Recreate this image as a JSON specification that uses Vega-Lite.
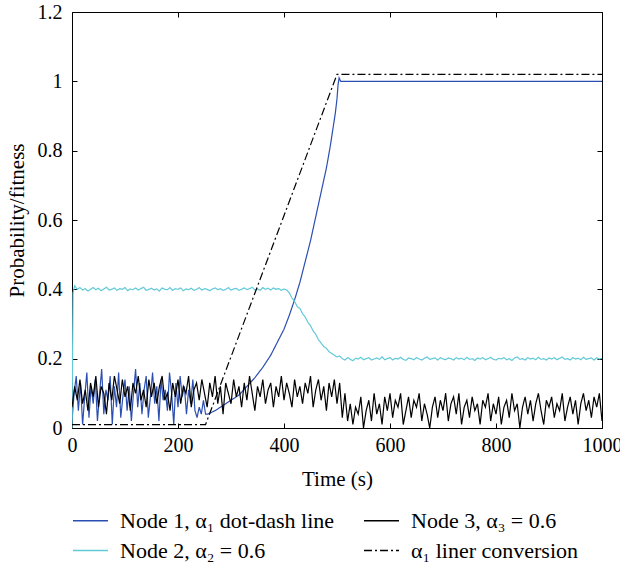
{
  "$schema": "https://vega.github.io/schema/vega-lite/v6.json",
  "width": 530,
  "height": 416,
  "autosize": "none",
  "padding": {"left": 72, "top": 12, "right": 18, "bottom": 137},
  "layer": [
    {
      "data": {"values": [
        {"t":0,"v":0.02,"s":"Node 1, α₁ dot-dash line"},{"t":4,"v":0.10,"s":"Node 1, α₁ dot-dash line"},{"t":8,"v":0.15,"s":"Node 1, α₁ dot-dash line"},{"t":12,"v":0.05,"s":"Node 1, α₁ dot-dash line"},{"t":16,"v":0.13,"s":"Node 1, α₁ dot-dash line"},{"t":20,"v":0.01,"s":"Node 1, α₁ dot-dash line"},{"t":24,"v":0.09,"s":"Node 1, α₁ dot-dash line"},{"t":28,"v":0.16,"s":"Node 1, α₁ dot-dash line"},{"t":32,"v":0.03,"s":"Node 1, α₁ dot-dash line"},{"t":36,"v":0.12,"s":"Node 1, α₁ dot-dash line"},{"t":40,"v":0.07,"s":"Node 1, α₁ dot-dash line"},{"t":44,"v":0.14,"s":"Node 1, α₁ dot-dash line"},{"t":48,"v":0.02,"s":"Node 1, α₁ dot-dash line"},{"t":52,"v":0.10,"s":"Node 1, α₁ dot-dash line"},{"t":56,"v":0.17,"s":"Node 1, α₁ dot-dash line"},{"t":60,"v":0.04,"s":"Node 1, α₁ dot-dash line"},{"t":64,"v":0.11,"s":"Node 1, α₁ dot-dash line"},{"t":68,"v":0.08,"s":"Node 1, α₁ dot-dash line"},{"t":72,"v":0.15,"s":"Node 1, α₁ dot-dash line"},{"t":76,"v":0.01,"s":"Node 1, α₁ dot-dash line"},{"t":80,"v":0.12,"s":"Node 1, α₁ dot-dash line"},{"t":84,"v":0.06,"s":"Node 1, α₁ dot-dash line"},{"t":88,"v":0.16,"s":"Node 1, α₁ dot-dash line"},{"t":92,"v":0.03,"s":"Node 1, α₁ dot-dash line"},{"t":96,"v":0.09,"s":"Node 1, α₁ dot-dash line"},{"t":100,"v":0.14,"s":"Node 1, α₁ dot-dash line"},{"t":104,"v":0.05,"s":"Node 1, α₁ dot-dash line"},{"t":108,"v":0.12,"s":"Node 1, α₁ dot-dash line"},{"t":112,"v":0.02,"s":"Node 1, α₁ dot-dash line"},{"t":116,"v":0.10,"s":"Node 1, α₁ dot-dash line"},{"t":120,"v":0.17,"s":"Node 1, α₁ dot-dash line"},{"t":124,"v":0.06,"s":"Node 1, α₁ dot-dash line"},{"t":128,"v":0.13,"s":"Node 1, α₁ dot-dash line"},{"t":132,"v":0.04,"s":"Node 1, α₁ dot-dash line"},{"t":136,"v":0.11,"s":"Node 1, α₁ dot-dash line"},{"t":140,"v":0.15,"s":"Node 1, α₁ dot-dash line"},{"t":144,"v":0.03,"s":"Node 1, α₁ dot-dash line"},{"t":148,"v":0.09,"s":"Node 1, α₁ dot-dash line"},{"t":152,"v":0.16,"s":"Node 1, α₁ dot-dash line"},{"t":156,"v":0.07,"s":"Node 1, α₁ dot-dash line"},{"t":160,"v":0.12,"s":"Node 1, α₁ dot-dash line"},{"t":164,"v":0.02,"s":"Node 1, α₁ dot-dash line"},{"t":168,"v":0.14,"s":"Node 1, α₁ dot-dash line"},{"t":172,"v":0.08,"s":"Node 1, α₁ dot-dash line"},{"t":176,"v":0.11,"s":"Node 1, α₁ dot-dash line"},{"t":180,"v":0.05,"s":"Node 1, α₁ dot-dash line"},{"t":184,"v":0.16,"s":"Node 1, α₁ dot-dash line"},{"t":188,"v":0.10,"s":"Node 1, α₁ dot-dash line"},{"t":192,"v":0.01,"s":"Node 1, α₁ dot-dash line"},{"t":196,"v":0.13,"s":"Node 1, α₁ dot-dash line"},{"t":200,"v":0.06,"s":"Node 1, α₁ dot-dash line"},{"t":204,"v":0.15,"s":"Node 1, α₁ dot-dash line"},{"t":208,"v":0.09,"s":"Node 1, α₁ dot-dash line"},{"t":212,"v":0.12,"s":"Node 1, α₁ dot-dash line"},{"t":216,"v":0.04,"s":"Node 1, α₁ dot-dash line"},{"t":220,"v":0.11,"s":"Node 1, α₁ dot-dash line"},{"t":224,"v":0.07,"s":"Node 1, α₁ dot-dash line"},{"t":228,"v":0.14,"s":"Node 1, α₁ dot-dash line"},{"t":232,"v":0.05,"s":"Node 1, α₁ dot-dash line"},{"t":236,"v":0.03,"s":"Node 1, α₁ dot-dash line"},{"t":240,"v":0.06,"s":"Node 1, α₁ dot-dash line"},{"t":244,"v":0.04,"s":"Node 1, α₁ dot-dash line"},{"t":248,"v":0.08,"s":"Node 1, α₁ dot-dash line"},{"t":252,"v":0.04,"s":"Node 1, α₁ dot-dash line"},{"t":256,"v":0.04,"s":"Node 1, α₁ dot-dash line"},{"t":270,"v":0.05,"s":"Node 1, α₁ dot-dash line"},{"t":285,"v":0.065,"s":"Node 1, α₁ dot-dash line"},{"t":300,"v":0.08,"s":"Node 1, α₁ dot-dash line"},{"t":315,"v":0.095,"s":"Node 1, α₁ dot-dash line"},{"t":330,"v":0.12,"s":"Node 1, α₁ dot-dash line"},{"t":345,"v":0.145,"s":"Node 1, α₁ dot-dash line"},{"t":360,"v":0.175,"s":"Node 1, α₁ dot-dash line"},{"t":375,"v":0.21,"s":"Node 1, α₁ dot-dash line"},{"t":390,"v":0.255,"s":"Node 1, α₁ dot-dash line"},{"t":400,"v":0.285,"s":"Node 1, α₁ dot-dash line"},{"t":410,"v":0.325,"s":"Node 1, α₁ dot-dash line"},{"t":420,"v":0.37,"s":"Node 1, α₁ dot-dash line"},{"t":430,"v":0.42,"s":"Node 1, α₁ dot-dash line"},{"t":440,"v":0.48,"s":"Node 1, α₁ dot-dash line"},{"t":450,"v":0.54,"s":"Node 1, α₁ dot-dash line"},{"t":460,"v":0.61,"s":"Node 1, α₁ dot-dash line"},{"t":470,"v":0.68,"s":"Node 1, α₁ dot-dash line"},{"t":480,"v":0.75,"s":"Node 1, α₁ dot-dash line"},{"t":487,"v":0.81,"s":"Node 1, α₁ dot-dash line"},{"t":492,"v":0.86,"s":"Node 1, α₁ dot-dash line"},{"t":497,"v":0.91,"s":"Node 1, α₁ dot-dash line"},{"t":500,"v":0.95,"s":"Node 1, α₁ dot-dash line"},{"t":502,"v":0.99,"s":"Node 1, α₁ dot-dash line"},{"t":504,"v":1.01,"s":"Node 1, α₁ dot-dash line"},{"t":507,"v":1.0,"s":"Node 1, α₁ dot-dash line"},{"t":1000,"v":1.0,"s":"Node 1, α₁ dot-dash line"},

        {"t":0,"v":0.0,"s":"Node 2, α₂ = 0.6"},{"t":2,"v":0.39,"s":"Node 2, α₂ = 0.6"},{"t":5,"v":0.41,"s":"Node 2, α₂ = 0.6"},{"t":10,"v":0.40,"s":"Node 2, α₂ = 0.6"},{"t":15,"v":0.405,"s":"Node 2, α₂ = 0.6"},{"t":20,"v":0.398,"s":"Node 2, α₂ = 0.6"},{"t":25,"v":0.402,"s":"Node 2, α₂ = 0.6"},{"t":30,"v":0.395,"s":"Node 2, α₂ = 0.6"},{"t":35,"v":0.40,"s":"Node 2, α₂ = 0.6"},{"t":40,"v":0.405,"s":"Node 2, α₂ = 0.6"},{"t":45,"v":0.399,"s":"Node 2, α₂ = 0.6"},{"t":50,"v":0.403,"s":"Node 2, α₂ = 0.6"},{"t":55,"v":0.396,"s":"Node 2, α₂ = 0.6"},{"t":60,"v":0.401,"s":"Node 2, α₂ = 0.6"},{"t":65,"v":0.406,"s":"Node 2, α₂ = 0.6"},{"t":70,"v":0.398,"s":"Node 2, α₂ = 0.6"},{"t":75,"v":0.40,"s":"Node 2, α₂ = 0.6"},{"t":80,"v":0.404,"s":"Node 2, α₂ = 0.6"},{"t":85,"v":0.397,"s":"Node 2, α₂ = 0.6"},{"t":90,"v":0.402,"s":"Node 2, α₂ = 0.6"},{"t":95,"v":0.40,"s":"Node 2, α₂ = 0.6"},{"t":100,"v":0.405,"s":"Node 2, α₂ = 0.6"},{"t":105,"v":0.396,"s":"Node 2, α₂ = 0.6"},{"t":110,"v":0.401,"s":"Node 2, α₂ = 0.6"},{"t":115,"v":0.399,"s":"Node 2, α₂ = 0.6"},{"t":120,"v":0.404,"s":"Node 2, α₂ = 0.6"},{"t":125,"v":0.398,"s":"Node 2, α₂ = 0.6"},{"t":130,"v":0.402,"s":"Node 2, α₂ = 0.6"},{"t":135,"v":0.406,"s":"Node 2, α₂ = 0.6"},{"t":140,"v":0.397,"s":"Node 2, α₂ = 0.6"},{"t":145,"v":0.40,"s":"Node 2, α₂ = 0.6"},{"t":150,"v":0.403,"s":"Node 2, α₂ = 0.6"},{"t":155,"v":0.398,"s":"Node 2, α₂ = 0.6"},{"t":160,"v":0.401,"s":"Node 2, α₂ = 0.6"},{"t":165,"v":0.395,"s":"Node 2, α₂ = 0.6"},{"t":170,"v":0.404,"s":"Node 2, α₂ = 0.6"},{"t":175,"v":0.40,"s":"Node 2, α₂ = 0.6"},{"t":180,"v":0.399,"s":"Node 2, α₂ = 0.6"},{"t":185,"v":0.405,"s":"Node 2, α₂ = 0.6"},{"t":190,"v":0.397,"s":"Node 2, α₂ = 0.6"},{"t":195,"v":0.402,"s":"Node 2, α₂ = 0.6"},{"t":200,"v":0.40,"s":"Node 2, α₂ = 0.6"},{"t":205,"v":0.404,"s":"Node 2, α₂ = 0.6"},{"t":210,"v":0.396,"s":"Node 2, α₂ = 0.6"},{"t":215,"v":0.401,"s":"Node 2, α₂ = 0.6"},{"t":220,"v":0.399,"s":"Node 2, α₂ = 0.6"},{"t":225,"v":0.403,"s":"Node 2, α₂ = 0.6"},{"t":230,"v":0.397,"s":"Node 2, α₂ = 0.6"},{"t":235,"v":0.40,"s":"Node 2, α₂ = 0.6"},{"t":240,"v":0.405,"s":"Node 2, α₂ = 0.6"},{"t":245,"v":0.398,"s":"Node 2, α₂ = 0.6"},{"t":250,"v":0.402,"s":"Node 2, α₂ = 0.6"},{"t":255,"v":0.40,"s":"Node 2, α₂ = 0.6"},{"t":260,"v":0.396,"s":"Node 2, α₂ = 0.6"},{"t":265,"v":0.401,"s":"Node 2, α₂ = 0.6"},{"t":270,"v":0.404,"s":"Node 2, α₂ = 0.6"},{"t":275,"v":0.399,"s":"Node 2, α₂ = 0.6"},{"t":280,"v":0.402,"s":"Node 2, α₂ = 0.6"},{"t":285,"v":0.397,"s":"Node 2, α₂ = 0.6"},{"t":290,"v":0.40,"s":"Node 2, α₂ = 0.6"},{"t":295,"v":0.405,"s":"Node 2, α₂ = 0.6"},{"t":300,"v":0.398,"s":"Node 2, α₂ = 0.6"},{"t":305,"v":0.401,"s":"Node 2, α₂ = 0.6"},{"t":310,"v":0.403,"s":"Node 2, α₂ = 0.6"},{"t":315,"v":0.397,"s":"Node 2, α₂ = 0.6"},{"t":320,"v":0.40,"s":"Node 2, α₂ = 0.6"},{"t":325,"v":0.404,"s":"Node 2, α₂ = 0.6"},{"t":330,"v":0.399,"s":"Node 2, α₂ = 0.6"},{"t":335,"v":0.402,"s":"Node 2, α₂ = 0.6"},{"t":340,"v":0.406,"s":"Node 2, α₂ = 0.6"},{"t":345,"v":0.398,"s":"Node 2, α₂ = 0.6"},{"t":350,"v":0.401,"s":"Node 2, α₂ = 0.6"},{"t":355,"v":0.397,"s":"Node 2, α₂ = 0.6"},{"t":360,"v":0.405,"s":"Node 2, α₂ = 0.6"},{"t":365,"v":0.40,"s":"Node 2, α₂ = 0.6"},{"t":370,"v":0.403,"s":"Node 2, α₂ = 0.6"},{"t":375,"v":0.398,"s":"Node 2, α₂ = 0.6"},{"t":380,"v":0.404,"s":"Node 2, α₂ = 0.6"},{"t":385,"v":0.40,"s":"Node 2, α₂ = 0.6"},{"t":390,"v":0.402,"s":"Node 2, α₂ = 0.6"},{"t":395,"v":0.397,"s":"Node 2, α₂ = 0.6"},{"t":400,"v":0.401,"s":"Node 2, α₂ = 0.6"},{"t":405,"v":0.398,"s":"Node 2, α₂ = 0.6"},{"t":410,"v":0.39,"s":"Node 2, α₂ = 0.6"},{"t":415,"v":0.375,"s":"Node 2, α₂ = 0.6"},{"t":420,"v":0.365,"s":"Node 2, α₂ = 0.6"},{"t":425,"v":0.35,"s":"Node 2, α₂ = 0.6"},{"t":430,"v":0.345,"s":"Node 2, α₂ = 0.6"},{"t":435,"v":0.33,"s":"Node 2, α₂ = 0.6"},{"t":440,"v":0.32,"s":"Node 2, α₂ = 0.6"},{"t":445,"v":0.305,"s":"Node 2, α₂ = 0.6"},{"t":450,"v":0.295,"s":"Node 2, α₂ = 0.6"},{"t":455,"v":0.28,"s":"Node 2, α₂ = 0.6"},{"t":460,"v":0.27,"s":"Node 2, α₂ = 0.6"},{"t":465,"v":0.255,"s":"Node 2, α₂ = 0.6"},{"t":470,"v":0.245,"s":"Node 2, α₂ = 0.6"},{"t":475,"v":0.235,"s":"Node 2, α₂ = 0.6"},{"t":480,"v":0.23,"s":"Node 2, α₂ = 0.6"},{"t":485,"v":0.22,"s":"Node 2, α₂ = 0.6"},{"t":490,"v":0.215,"s":"Node 2, α₂ = 0.6"},{"t":495,"v":0.21,"s":"Node 2, α₂ = 0.6"},{"t":500,"v":0.205,"s":"Node 2, α₂ = 0.6"},{"t":505,"v":0.208,"s":"Node 2, α₂ = 0.6"},{"t":510,"v":0.20,"s":"Node 2, α₂ = 0.6"},{"t":515,"v":0.196,"s":"Node 2, α₂ = 0.6"},{"t":520,"v":0.203,"s":"Node 2, α₂ = 0.6"},{"t":525,"v":0.198,"s":"Node 2, α₂ = 0.6"},{"t":530,"v":0.194,"s":"Node 2, α₂ = 0.6"},{"t":535,"v":0.201,"s":"Node 2, α₂ = 0.6"},{"t":540,"v":0.199,"s":"Node 2, α₂ = 0.6"},{"t":545,"v":0.204,"s":"Node 2, α₂ = 0.6"},{"t":550,"v":0.197,"s":"Node 2, α₂ = 0.6"},{"t":555,"v":0.20,"s":"Node 2, α₂ = 0.6"},{"t":560,"v":0.203,"s":"Node 2, α₂ = 0.6"},{"t":565,"v":0.196,"s":"Node 2, α₂ = 0.6"},{"t":570,"v":0.199,"s":"Node 2, α₂ = 0.6"},{"t":575,"v":0.202,"s":"Node 2, α₂ = 0.6"},{"t":580,"v":0.198,"s":"Node 2, α₂ = 0.6"},{"t":585,"v":0.205,"s":"Node 2, α₂ = 0.6"},{"t":590,"v":0.197,"s":"Node 2, α₂ = 0.6"},{"t":595,"v":0.20,"s":"Node 2, α₂ = 0.6"},{"t":600,"v":0.203,"s":"Node 2, α₂ = 0.6"},{"t":605,"v":0.196,"s":"Node 2, α₂ = 0.6"},{"t":610,"v":0.201,"s":"Node 2, α₂ = 0.6"},{"t":615,"v":0.199,"s":"Node 2, α₂ = 0.6"},{"t":620,"v":0.204,"s":"Node 2, α₂ = 0.6"},{"t":625,"v":0.198,"s":"Node 2, α₂ = 0.6"},{"t":630,"v":0.195,"s":"Node 2, α₂ = 0.6"},{"t":635,"v":0.202,"s":"Node 2, α₂ = 0.6"},{"t":640,"v":0.20,"s":"Node 2, α₂ = 0.6"},{"t":645,"v":0.197,"s":"Node 2, α₂ = 0.6"},{"t":650,"v":0.203,"s":"Node 2, α₂ = 0.6"},{"t":655,"v":0.199,"s":"Node 2, α₂ = 0.6"},{"t":660,"v":0.196,"s":"Node 2, α₂ = 0.6"},{"t":665,"v":0.201,"s":"Node 2, α₂ = 0.6"},{"t":670,"v":0.205,"s":"Node 2, α₂ = 0.6"},{"t":675,"v":0.198,"s":"Node 2, α₂ = 0.6"},{"t":680,"v":0.20,"s":"Node 2, α₂ = 0.6"},{"t":685,"v":0.202,"s":"Node 2, α₂ = 0.6"},{"t":690,"v":0.196,"s":"Node 2, α₂ = 0.6"},{"t":695,"v":0.203,"s":"Node 2, α₂ = 0.6"},{"t":700,"v":0.199,"s":"Node 2, α₂ = 0.6"},{"t":705,"v":0.197,"s":"Node 2, α₂ = 0.6"},{"t":710,"v":0.202,"s":"Node 2, α₂ = 0.6"},{"t":715,"v":0.20,"s":"Node 2, α₂ = 0.6"},{"t":720,"v":0.196,"s":"Node 2, α₂ = 0.6"},{"t":725,"v":0.203,"s":"Node 2, α₂ = 0.6"},{"t":730,"v":0.199,"s":"Node 2, α₂ = 0.6"},{"t":735,"v":0.201,"s":"Node 2, α₂ = 0.6"},{"t":740,"v":0.197,"s":"Node 2, α₂ = 0.6"},{"t":745,"v":0.204,"s":"Node 2, α₂ = 0.6"},{"t":750,"v":0.198,"s":"Node 2, α₂ = 0.6"},{"t":755,"v":0.20,"s":"Node 2, α₂ = 0.6"},{"t":760,"v":0.195,"s":"Node 2, α₂ = 0.6"},{"t":765,"v":0.202,"s":"Node 2, α₂ = 0.6"},{"t":770,"v":0.199,"s":"Node 2, α₂ = 0.6"},{"t":775,"v":0.203,"s":"Node 2, α₂ = 0.6"},{"t":780,"v":0.197,"s":"Node 2, α₂ = 0.6"},{"t":785,"v":0.20,"s":"Node 2, α₂ = 0.6"},{"t":790,"v":0.204,"s":"Node 2, α₂ = 0.6"},{"t":795,"v":0.198,"s":"Node 2, α₂ = 0.6"},{"t":800,"v":0.196,"s":"Node 2, α₂ = 0.6"},{"t":805,"v":0.201,"s":"Node 2, α₂ = 0.6"},{"t":810,"v":0.199,"s":"Node 2, α₂ = 0.6"},{"t":815,"v":0.203,"s":"Node 2, α₂ = 0.6"},{"t":820,"v":0.197,"s":"Node 2, α₂ = 0.6"},{"t":825,"v":0.20,"s":"Node 2, α₂ = 0.6"},{"t":830,"v":0.195,"s":"Node 2, α₂ = 0.6"},{"t":835,"v":0.202,"s":"Node 2, α₂ = 0.6"},{"t":840,"v":0.205,"s":"Node 2, α₂ = 0.6"},{"t":845,"v":0.198,"s":"Node 2, α₂ = 0.6"},{"t":850,"v":0.20,"s":"Node 2, α₂ = 0.6"},{"t":855,"v":0.196,"s":"Node 2, α₂ = 0.6"},{"t":860,"v":0.203,"s":"Node 2, α₂ = 0.6"},{"t":865,"v":0.199,"s":"Node 2, α₂ = 0.6"},{"t":870,"v":0.201,"s":"Node 2, α₂ = 0.6"},{"t":875,"v":0.197,"s":"Node 2, α₂ = 0.6"},{"t":880,"v":0.204,"s":"Node 2, α₂ = 0.6"},{"t":885,"v":0.198,"s":"Node 2, α₂ = 0.6"},{"t":890,"v":0.20,"s":"Node 2, α₂ = 0.6"},{"t":895,"v":0.196,"s":"Node 2, α₂ = 0.6"},{"t":900,"v":0.202,"s":"Node 2, α₂ = 0.6"},{"t":905,"v":0.199,"s":"Node 2, α₂ = 0.6"},{"t":910,"v":0.203,"s":"Node 2, α₂ = 0.6"},{"t":915,"v":0.197,"s":"Node 2, α₂ = 0.6"},{"t":920,"v":0.201,"s":"Node 2, α₂ = 0.6"},{"t":925,"v":0.205,"s":"Node 2, α₂ = 0.6"},{"t":930,"v":0.198,"s":"Node 2, α₂ = 0.6"},{"t":935,"v":0.20,"s":"Node 2, α₂ = 0.6"},{"t":940,"v":0.196,"s":"Node 2, α₂ = 0.6"},{"t":945,"v":0.203,"s":"Node 2, α₂ = 0.6"},{"t":950,"v":0.199,"s":"Node 2, α₂ = 0.6"},{"t":955,"v":0.201,"s":"Node 2, α₂ = 0.6"},{"t":960,"v":0.197,"s":"Node 2, α₂ = 0.6"},{"t":965,"v":0.204,"s":"Node 2, α₂ = 0.6"},{"t":970,"v":0.198,"s":"Node 2, α₂ = 0.6"},{"t":975,"v":0.20,"s":"Node 2, α₂ = 0.6"},{"t":980,"v":0.202,"s":"Node 2, α₂ = 0.6"},{"t":985,"v":0.196,"s":"Node 2, α₂ = 0.6"},{"t":990,"v":0.203,"s":"Node 2, α₂ = 0.6"},{"t":995,"v":0.199,"s":"Node 2, α₂ = 0.6"},{"t":1000,"v":0.201,"s":"Node 2, α₂ = 0.6"},

        {"t":0,"v":0.06,"s":"Node 3, α₃ = 0.6"},{"t":5,"v":0.12,"s":"Node 3, α₃ = 0.6"},{"t":10,"v":0.08,"s":"Node 3, α₃ = 0.6"},{"t":15,"v":0.14,"s":"Node 3, α₃ = 0.6"},{"t":20,"v":0.07,"s":"Node 3, α₃ = 0.6"},{"t":25,"v":0.11,"s":"Node 3, α₃ = 0.6"},{"t":30,"v":0.05,"s":"Node 3, α₃ = 0.6"},{"t":35,"v":0.13,"s":"Node 3, α₃ = 0.6"},{"t":40,"v":0.09,"s":"Node 3, α₃ = 0.6"},{"t":45,"v":0.15,"s":"Node 3, α₃ = 0.6"},{"t":50,"v":0.06,"s":"Node 3, α₃ = 0.6"},{"t":55,"v":0.12,"s":"Node 3, α₃ = 0.6"},{"t":60,"v":0.10,"s":"Node 3, α₃ = 0.6"},{"t":65,"v":0.04,"s":"Node 3, α₃ = 0.6"},{"t":70,"v":0.13,"s":"Node 3, α₃ = 0.6"},{"t":75,"v":0.08,"s":"Node 3, α₃ = 0.6"},{"t":80,"v":0.15,"s":"Node 3, α₃ = 0.6"},{"t":85,"v":0.11,"s":"Node 3, α₃ = 0.6"},{"t":90,"v":0.07,"s":"Node 3, α₃ = 0.6"},{"t":95,"v":0.14,"s":"Node 3, α₃ = 0.6"},{"t":100,"v":0.09,"s":"Node 3, α₃ = 0.6"},{"t":105,"v":0.12,"s":"Node 3, α₃ = 0.6"},{"t":110,"v":0.05,"s":"Node 3, α₃ = 0.6"},{"t":115,"v":0.13,"s":"Node 3, α₃ = 0.6"},{"t":120,"v":0.10,"s":"Node 3, α₃ = 0.6"},{"t":125,"v":0.15,"s":"Node 3, α₃ = 0.6"},{"t":130,"v":0.08,"s":"Node 3, α₃ = 0.6"},{"t":135,"v":0.11,"s":"Node 3, α₃ = 0.6"},{"t":140,"v":0.06,"s":"Node 3, α₃ = 0.6"},{"t":145,"v":0.14,"s":"Node 3, α₃ = 0.6"},{"t":150,"v":0.09,"s":"Node 3, α₃ = 0.6"},{"t":155,"v":0.13,"s":"Node 3, α₃ = 0.6"},{"t":160,"v":0.07,"s":"Node 3, α₃ = 0.6"},{"t":165,"v":0.12,"s":"Node 3, α₃ = 0.6"},{"t":170,"v":0.15,"s":"Node 3, α₃ = 0.6"},{"t":175,"v":0.08,"s":"Node 3, α₃ = 0.6"},{"t":180,"v":0.10,"s":"Node 3, α₃ = 0.6"},{"t":185,"v":0.05,"s":"Node 3, α₃ = 0.6"},{"t":190,"v":0.13,"s":"Node 3, α₃ = 0.6"},{"t":195,"v":0.09,"s":"Node 3, α₃ = 0.6"},{"t":200,"v":0.14,"s":"Node 3, α₃ = 0.6"},{"t":205,"v":0.07,"s":"Node 3, α₃ = 0.6"},{"t":210,"v":0.12,"s":"Node 3, α₃ = 0.6"},{"t":215,"v":0.10,"s":"Node 3, α₃ = 0.6"},{"t":220,"v":0.15,"s":"Node 3, α₃ = 0.6"},{"t":225,"v":0.06,"s":"Node 3, α₃ = 0.6"},{"t":230,"v":0.11,"s":"Node 3, α₃ = 0.6"},{"t":235,"v":0.13,"s":"Node 3, α₃ = 0.6"},{"t":240,"v":0.08,"s":"Node 3, α₃ = 0.6"},{"t":245,"v":0.14,"s":"Node 3, α₃ = 0.6"},{"t":250,"v":0.10,"s":"Node 3, α₃ = 0.6"},{"t":255,"v":0.06,"s":"Node 3, α₃ = 0.6"},{"t":260,"v":0.13,"s":"Node 3, α₃ = 0.6"},{"t":265,"v":0.09,"s":"Node 3, α₃ = 0.6"},{"t":270,"v":0.15,"s":"Node 3, α₃ = 0.6"},{"t":275,"v":0.07,"s":"Node 3, α₃ = 0.6"},{"t":280,"v":0.12,"s":"Node 3, α₃ = 0.6"},{"t":285,"v":0.04,"s":"Node 3, α₃ = 0.6"},{"t":290,"v":0.13,"s":"Node 3, α₃ = 0.6"},{"t":295,"v":0.10,"s":"Node 3, α₃ = 0.6"},{"t":300,"v":0.07,"s":"Node 3, α₃ = 0.6"},{"t":305,"v":0.14,"s":"Node 3, α₃ = 0.6"},{"t":310,"v":0.09,"s":"Node 3, α₃ = 0.6"},{"t":315,"v":0.12,"s":"Node 3, α₃ = 0.6"},{"t":320,"v":0.06,"s":"Node 3, α₃ = 0.6"},{"t":325,"v":0.13,"s":"Node 3, α₃ = 0.6"},{"t":330,"v":0.08,"s":"Node 3, α₃ = 0.6"},{"t":335,"v":0.15,"s":"Node 3, α₃ = 0.6"},{"t":340,"v":0.10,"s":"Node 3, α₃ = 0.6"},{"t":345,"v":0.05,"s":"Node 3, α₃ = 0.6"},{"t":350,"v":0.12,"s":"Node 3, α₃ = 0.6"},{"t":355,"v":0.09,"s":"Node 3, α₃ = 0.6"},{"t":360,"v":0.14,"s":"Node 3, α₃ = 0.6"},{"t":365,"v":0.07,"s":"Node 3, α₃ = 0.6"},{"t":370,"v":0.11,"s":"Node 3, α₃ = 0.6"},{"t":375,"v":0.13,"s":"Node 3, α₃ = 0.6"},{"t":380,"v":0.06,"s":"Node 3, α₃ = 0.6"},{"t":385,"v":0.12,"s":"Node 3, α₃ = 0.6"},{"t":390,"v":0.09,"s":"Node 3, α₃ = 0.6"},{"t":395,"v":0.15,"s":"Node 3, α₃ = 0.6"},{"t":400,"v":0.08,"s":"Node 3, α₃ = 0.6"},{"t":405,"v":0.13,"s":"Node 3, α₃ = 0.6"},{"t":410,"v":0.10,"s":"Node 3, α₃ = 0.6"},{"t":415,"v":0.06,"s":"Node 3, α₃ = 0.6"},{"t":420,"v":0.14,"s":"Node 3, α₃ = 0.6"},{"t":425,"v":0.09,"s":"Node 3, α₃ = 0.6"},{"t":430,"v":0.12,"s":"Node 3, α₃ = 0.6"},{"t":435,"v":0.07,"s":"Node 3, α₃ = 0.6"},{"t":440,"v":0.13,"s":"Node 3, α₃ = 0.6"},{"t":445,"v":0.10,"s":"Node 3, α₃ = 0.6"},{"t":450,"v":0.15,"s":"Node 3, α₃ = 0.6"},{"t":455,"v":0.06,"s":"Node 3, α₃ = 0.6"},{"t":460,"v":0.11,"s":"Node 3, α₃ = 0.6"},{"t":465,"v":0.14,"s":"Node 3, α₃ = 0.6"},{"t":470,"v":0.08,"s":"Node 3, α₃ = 0.6"},{"t":475,"v":0.12,"s":"Node 3, α₃ = 0.6"},{"t":480,"v":0.05,"s":"Node 3, α₃ = 0.6"},{"t":485,"v":0.13,"s":"Node 3, α₃ = 0.6"},{"t":490,"v":0.09,"s":"Node 3, α₃ = 0.6"},{"t":495,"v":0.14,"s":"Node 3, α₃ = 0.6"},{"t":500,"v":0.07,"s":"Node 3, α₃ = 0.6"},{"t":505,"v":0.13,"s":"Node 3, α₃ = 0.6"},{"t":510,"v":0.03,"s":"Node 3, α₃ = 0.6"},{"t":515,"v":0.10,"s":"Node 3, α₃ = 0.6"},{"t":520,"v":0.02,"s":"Node 3, α₃ = 0.6"},{"t":525,"v":0.07,"s":"Node 3, α₃ = 0.6"},{"t":530,"v":0.01,"s":"Node 3, α₃ = 0.6"},{"t":535,"v":0.06,"s":"Node 3, α₃ = 0.6"},{"t":540,"v":0.04,"s":"Node 3, α₃ = 0.6"},{"t":545,"v":0.09,"s":"Node 3, α₃ = 0.6"},{"t":550,"v":0.0,"s":"Node 3, α₃ = 0.6"},{"t":555,"v":0.05,"s":"Node 3, α₃ = 0.6"},{"t":560,"v":0.08,"s":"Node 3, α₃ = 0.6"},{"t":565,"v":0.02,"s":"Node 3, α₃ = 0.6"},{"t":570,"v":0.10,"s":"Node 3, α₃ = 0.6"},{"t":575,"v":0.04,"s":"Node 3, α₃ = 0.6"},{"t":580,"v":0.07,"s":"Node 3, α₃ = 0.6"},{"t":585,"v":0.01,"s":"Node 3, α₃ = 0.6"},{"t":590,"v":0.09,"s":"Node 3, α₃ = 0.6"},{"t":595,"v":0.05,"s":"Node 3, α₃ = 0.6"},{"t":600,"v":0.10,"s":"Node 3, α₃ = 0.6"},{"t":605,"v":0.03,"s":"Node 3, α₃ = 0.6"},{"t":610,"v":0.08,"s":"Node 3, α₃ = 0.6"},{"t":615,"v":0.06,"s":"Node 3, α₃ = 0.6"},{"t":620,"v":0.10,"s":"Node 3, α₃ = 0.6"},{"t":625,"v":0.01,"s":"Node 3, α₃ = 0.6"},{"t":630,"v":0.05,"s":"Node 3, α₃ = 0.6"},{"t":635,"v":0.09,"s":"Node 3, α₃ = 0.6"},{"t":640,"v":0.03,"s":"Node 3, α₃ = 0.6"},{"t":645,"v":0.08,"s":"Node 3, α₃ = 0.6"},{"t":650,"v":0.06,"s":"Node 3, α₃ = 0.6"},{"t":655,"v":0.10,"s":"Node 3, α₃ = 0.6"},{"t":660,"v":0.02,"s":"Node 3, α₃ = 0.6"},{"t":665,"v":0.07,"s":"Node 3, α₃ = 0.6"},{"t":670,"v":0.04,"s":"Node 3, α₃ = 0.6"},{"t":675,"v":0.0,"s":"Node 3, α₃ = 0.6"},{"t":680,"v":0.06,"s":"Node 3, α₃ = 0.6"},{"t":685,"v":0.09,"s":"Node 3, α₃ = 0.6"},{"t":690,"v":0.03,"s":"Node 3, α₃ = 0.6"},{"t":695,"v":0.08,"s":"Node 3, α₃ = 0.6"},{"t":700,"v":0.05,"s":"Node 3, α₃ = 0.6"},{"t":705,"v":0.10,"s":"Node 3, α₃ = 0.6"},{"t":710,"v":0.02,"s":"Node 3, α₃ = 0.6"},{"t":715,"v":0.07,"s":"Node 3, α₃ = 0.6"},{"t":720,"v":0.09,"s":"Node 3, α₃ = 0.6"},{"t":725,"v":0.04,"s":"Node 3, α₃ = 0.6"},{"t":730,"v":0.10,"s":"Node 3, α₃ = 0.6"},{"t":735,"v":0.01,"s":"Node 3, α₃ = 0.6"},{"t":740,"v":0.06,"s":"Node 3, α₃ = 0.6"},{"t":745,"v":0.08,"s":"Node 3, α₃ = 0.6"},{"t":750,"v":0.03,"s":"Node 3, α₃ = 0.6"},{"t":755,"v":0.09,"s":"Node 3, α₃ = 0.6"},{"t":760,"v":0.05,"s":"Node 3, α₃ = 0.6"},{"t":765,"v":0.07,"s":"Node 3, α₃ = 0.6"},{"t":770,"v":0.01,"s":"Node 3, α₃ = 0.6"},{"t":775,"v":0.08,"s":"Node 3, α₃ = 0.6"},{"t":780,"v":0.06,"s":"Node 3, α₃ = 0.6"},{"t":785,"v":0.10,"s":"Node 3, α₃ = 0.6"},{"t":790,"v":0.02,"s":"Node 3, α₃ = 0.6"},{"t":795,"v":0.07,"s":"Node 3, α₃ = 0.6"},{"t":800,"v":0.04,"s":"Node 3, α₃ = 0.6"},{"t":805,"v":0.09,"s":"Node 3, α₃ = 0.6"},{"t":810,"v":0.01,"s":"Node 3, α₃ = 0.6"},{"t":815,"v":0.06,"s":"Node 3, α₃ = 0.6"},{"t":820,"v":0.08,"s":"Node 3, α₃ = 0.6"},{"t":825,"v":0.03,"s":"Node 3, α₃ = 0.6"},{"t":830,"v":0.10,"s":"Node 3, α₃ = 0.6"},{"t":835,"v":0.05,"s":"Node 3, α₃ = 0.6"},{"t":840,"v":0.07,"s":"Node 3, α₃ = 0.6"},{"t":845,"v":0.0,"s":"Node 3, α₃ = 0.6"},{"t":850,"v":0.06,"s":"Node 3, α₃ = 0.6"},{"t":855,"v":0.09,"s":"Node 3, α₃ = 0.6"},{"t":860,"v":0.04,"s":"Node 3, α₃ = 0.6"},{"t":865,"v":0.08,"s":"Node 3, α₃ = 0.6"},{"t":870,"v":0.02,"s":"Node 3, α₃ = 0.6"},{"t":875,"v":0.07,"s":"Node 3, α₃ = 0.6"},{"t":880,"v":0.10,"s":"Node 3, α₃ = 0.6"},{"t":885,"v":0.05,"s":"Node 3, α₃ = 0.6"},{"t":890,"v":0.01,"s":"Node 3, α₃ = 0.6"},{"t":895,"v":0.08,"s":"Node 3, α₃ = 0.6"},{"t":900,"v":0.06,"s":"Node 3, α₃ = 0.6"},{"t":905,"v":0.09,"s":"Node 3, α₃ = 0.6"},{"t":910,"v":0.03,"s":"Node 3, α₃ = 0.6"},{"t":915,"v":0.07,"s":"Node 3, α₃ = 0.6"},{"t":920,"v":0.05,"s":"Node 3, α₃ = 0.6"},{"t":925,"v":0.10,"s":"Node 3, α₃ = 0.6"},{"t":930,"v":0.02,"s":"Node 3, α₃ = 0.6"},{"t":935,"v":0.06,"s":"Node 3, α₃ = 0.6"},{"t":940,"v":0.09,"s":"Node 3, α₃ = 0.6"},{"t":945,"v":0.04,"s":"Node 3, α₃ = 0.6"},{"t":950,"v":0.08,"s":"Node 3, α₃ = 0.6"},{"t":955,"v":0.01,"s":"Node 3, α₃ = 0.6"},{"t":960,"v":0.07,"s":"Node 3, α₃ = 0.6"},{"t":965,"v":0.10,"s":"Node 3, α₃ = 0.6"},{"t":970,"v":0.05,"s":"Node 3, α₃ = 0.6"},{"t":975,"v":0.08,"s":"Node 3, α₃ = 0.6"},{"t":980,"v":0.03,"s":"Node 3, α₃ = 0.6"},{"t":985,"v":0.09,"s":"Node 3, α₃ = 0.6"},{"t":990,"v":0.06,"s":"Node 3, α₃ = 0.6"},{"t":995,"v":0.10,"s":"Node 3, α₃ = 0.6"},{"t":1000,"v":0.02,"s":"Node 3, α₃ = 0.6"},

        {"t":0,"v":0.01,"s":"α₁ liner conversion"},{"t":252,"v":0.01,"s":"α₁ liner conversion"},{"t":500,"v":1.02,"s":"α₁ liner conversion"},{"t":1000,"v":1.02,"s":"α₁ liner conversion"}
      ]},
      "mark": {"type": "line", "strokeWidth": 1.2, "clip": true},
      "encoding": {
        "x": {"field": "t", "type": "quantitative", "scale": {"domain": [0, 1000], "nice": false},
              "axis": {"values": [0, 200, 400, 600, 800, 1000], "format": "d", "title": "Time (s)", "labelPadding": 12, "titlePadding": 13,
                       "labelFont": "Liberation Serif", "titleFont": "Liberation Serif", "labelFontSize": 20, "titleFontSize": 21, "titleFontWeight": "normal",
                       "labelColor": "black", "titleColor": "black", "labelFlush": false, "labelOverlap": false, "grid": false,
                       "domainColor": "black", "tickColor": "black", "tickSize": -5}},
        "y": {"field": "v", "type": "quantitative", "scale": {"domain": [0, 1.2], "nice": false},
              "axis": {"values": [0, 0.2, 0.4, 0.6, 0.8, 1, 1.2], "format": "~g", "title": "Probability/fitness", "labelPadding": 15, "titlePadding": 10,
                       "labelFont": "Liberation Serif", "titleFont": "Liberation Serif", "labelFontSize": 20, "titleFontSize": 21, "titleFontWeight": "normal",
                       "labelColor": "black", "titleColor": "black", "labelFlush": false, "labelOverlap": false, "grid": false,
                       "domainColor": "black", "tickColor": "black", "tickSize": -5}},
        "color": {"field": "s", "type": "nominal",
                  "scale": {"domain": ["Node 1, α₁ dot-dash line", "Node 2, α₂ = 0.6", "Node 3, α₃ = 0.6", "α₁ liner conversion"],
                            "range": ["#2b4eb2", "#62c9d8", "#000000", "#000000"]},
                  "legend": {"title": null, "orient": "none", "legendX": 0, "legendY": 490, "columns": 2, "symbolType": "stroke",
                             "labelFont": "Liberation Serif", "labelFontSize": 22, "labelColor": "black", "labelLimit": 400,
                             "symbolSize": 1225, "symbolStrokeWidth": 1.3, "labelOffset": 11, "columnPadding": 26, "rowPadding": 0}},
        "strokeDash": {"field": "s", "type": "nominal",
                       "scale": {"domain": ["Node 1, α₁ dot-dash line", "Node 2, α₂ = 0.6", "Node 3, α₃ = 0.6", "α₁ liner conversion"],
                                 "range": [[1, 0], [1, 0], [1, 0], [8, 3, 2, 3]]},
                       "legend": {"title": null, "orient": "none", "legendX": 0, "legendY": 490, "columns": 2, "symbolType": "stroke",
                                  "labelFont": "Liberation Serif", "labelFontSize": 22, "labelColor": "black", "labelLimit": 400,
                                  "symbolSize": 1225, "symbolStrokeWidth": 1.3, "labelOffset": 11, "columnPadding": 26, "rowPadding": 0}},
        "order": {"field": "t", "type": "quantitative"}
      }
    },
    {
      "data": {"values": [{"t": 0, "v": 0.01}, {"t": 1000, "v": 1.02}]},
      "mark": {"type": "line", "opacity": 0},
      "encoding": {
        "x": {"field": "t", "type": "quantitative", "axis": {"orient": "top", "values": [0, 200, 400, 600, 800, 1000], "labels": false, "title": null, "grid": false, "domainColor": "black", "tickColor": "black", "tickSize": -5}},
        "y": {"field": "v", "type": "quantitative", "axis": {"orient": "right", "values": [0, 0.2, 0.4, 0.6, 0.8, 1, 1.2], "labels": false, "title": null, "grid": false, "domainColor": "black", "tickColor": "black", "tickSize": -5}}
      }
    }
  ],
  "resolve": {"axis": {"x": "independent", "y": "independent"}}
}
